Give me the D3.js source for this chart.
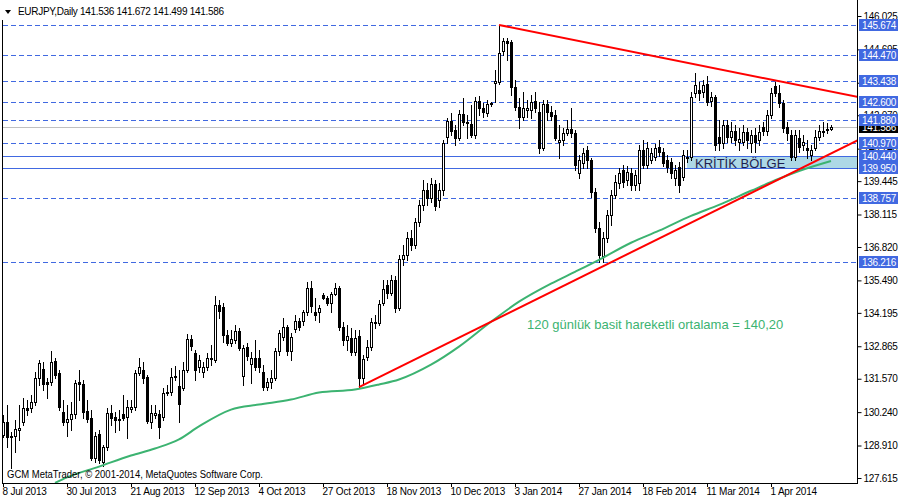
<!DOCTYPE html>
<html><head><meta charset="utf-8">
<script src="https://cdn.jsdelivr.net/npm/d3@7"></script>
<style>body{margin:0;background:#fff}svg{display:block}text{font-family:"Liberation Sans",Arial,sans-serif}</style>
</head><body><svg id="c" width="900" height="500"></svg>
<script>
const opens=[129.34,129.85,129.30,129.30,129.54,129.85,130.41,130.41,130.65,131.61,
131.96,131.45,131.45,132.28,131.80,130.25,129.85,129.97,130.17,131.45,
131.37,130.29,130.01,128.42,129.38,128.26,128.86,130.21,130.05,129.93,
130.17,130.05,130.37,130.45,131.80,131.92,131.65,129.85,130.13,130.17,
130.05,131.01,131.05,131.65,131.29,131.21,131.92,133.16,132.60,132.04,
131.84,132.04,132.36,132.32,134.51,134.43,133.32,133.00,133.12,133.48,
131.69,132.84,132.16,132.40,132.40,131.84,131.25,131.45,131.61,132.68,
133.24,133.64,132.68,133.56,133.88,133.88,134.23,135.19,134.23,134.23,
134.91,134.79,134.59,134.95,135.19,133.64,133.12,133.20,132.64,133.28,
131.61,132.44,132.84,133.80,133.80,134.59,135.31,134.99,135.51,134.39,
136.34,136.50,137.18,136.90,137.81,138.49,139.10,138.78,139.34,138.69,
139.10,141.21,141.84,141.49,141.17,142.12,141.76,141.72,141.29,142.64,
142.36,142.16,142.52,143.36,143.40,144.63,145.03,144.99,143.20,142.40,
142.00,142.28,142.28,142.64,142.20,140.77,142.52,142.20,142.08,141.01,
141.09,141.37,141.52,141.37,139.77,140.17,140.69,140.29,139.02,137.58,
136.46,137.18,138.09,138.89,139.38,139.90,139.50,139.78,139.30,139.38,
140.69,140.09,140.29,140.41,140.81,140.61,140.29,140.21,139.58,140.02,
139.62,140.37,140.41,142.96,143.08,143.00,143.32,142.64,142.80,141.21,
140.97,141.68,141.21,141.45,141.01,141.01,141.41,140.97,141.29,141.09,
141.60,141.45,142.08,143.24,142.96,142.56,141.60,141.29,140.41,141.17,
140.89,140.77,140.49,140.77,141.21,141.41,141.49,141.536];
const highs=[130.13,130.53,129.46,129.93,130.53,130.81,130.73,130.93,131.84,132.32,
132.24,131.61,132.68,132.40,131.92,130.73,130.53,130.65,131.53,131.92,
131.53,130.73,130.33,129.46,129.54,128.94,130.41,130.53,130.25,130.33,
130.93,130.73,130.73,131.92,132.40,132.24,131.72,130.53,130.53,130.33,
131.21,131.33,132.00,132.08,131.92,132.24,133.36,133.32,132.72,132.52,
132.24,132.60,132.92,134.87,134.71,134.59,133.52,133.52,133.72,133.60,
132.92,133.00,132.64,133.12,132.72,132.12,131.61,131.92,132.80,133.52,
133.99,133.72,133.40,134.11,133.99,134.31,135.43,135.47,134.79,134.51,
134.99,134.87,135.03,135.39,135.27,133.84,133.72,133.60,133.52,133.52,
132.52,133.12,133.99,134.11,134.71,135.51,135.51,135.70,135.66,136.50,
136.90,137.42,137.50,137.97,138.69,139.50,139.38,139.58,139.50,139.38,
141.09,141.96,142.16,141.68,142.28,142.76,142.08,142.48,142.80,142.84,
142.56,142.68,142.60,143.87,145.67,145.15,145.15,145.07,143.48,142.76,
143.00,142.68,142.88,143.00,142.60,142.68,142.68,142.44,142.28,141.68,
141.56,141.88,142.36,141.49,140.49,140.77,140.85,140.37,139.18,137.81,
137.42,138.29,139.10,139.70,139.98,140.10,140.06,139.98,139.90,140.89,
141.09,141.01,140.77,140.93,141.09,140.77,140.49,140.37,140.10,140.21,
140.69,140.69,143.00,143.75,143.40,143.48,143.64,143.00,142.88,141.88,
141.88,141.88,141.80,141.68,141.56,141.68,141.56,141.49,141.56,141.68,
141.80,142.28,143.16,143.38,143.28,142.68,141.80,141.49,141.49,141.49,
141.29,141.09,140.89,141.49,141.68,141.80,141.76,141.672];
const lows=[129.26,128.86,128.02,128.66,129.14,129.74,130.13,130.25,130.53,131.33,
131.13,130.81,131.33,131.61,130.33,129.74,129.30,129.54,130.01,130.73,
130.01,129.85,128.34,128.26,128.22,128.10,128.74,129.74,129.46,129.54,
129.93,129.22,130.25,130.33,131.72,131.41,129.81,129.62,130.01,129.22,
129.93,130.93,130.93,131.53,129.85,131.13,131.84,132.72,131.53,131.84,
131.65,131.92,132.12,132.24,133.99,133.04,132.92,132.88,133.00,132.72,
131.33,132.32,131.41,131.92,131.84,131.13,131.13,131.21,131.53,132.52,
133.12,132.52,132.32,133.44,133.52,133.72,134.11,134.23,133.91,133.83,
134.75,134.51,134.23,134.91,133.52,132.92,132.72,132.52,132.52,131.25,
131.41,132.32,132.72,133.60,133.72,134.51,134.79,134.91,134.23,134.31,
136.10,136.30,136.70,136.78,137.66,138.29,138.49,138.61,138.29,138.41,
138.90,140.97,141.29,140.89,141.09,141.68,141.17,141.21,141.17,142.08,
142.00,142.04,142.44,142.60,143.32,144.47,144.27,142.88,142.28,141.56,
141.88,142.00,141.96,142.20,140.57,140.69,141.88,141.88,141.09,140.37,
140.89,141.29,141.21,139.89,139.57,139.97,139.97,138.82,137.42,136.22,
136.22,137.02,137.69,138.77,139.18,139.22,139.30,139.10,139.10,139.10,
139.98,139.98,140.17,140.29,140.45,140.06,139.82,139.58,139.30,139.02,
139.50,140.21,140.29,142.80,142.68,142.80,142.48,142.44,140.69,140.69,
140.77,141.01,141.01,140.89,140.69,140.89,140.77,140.61,140.61,140.89,
141.29,141.29,141.96,142.84,142.40,141.41,141.09,140.29,140.29,140.61,
140.69,140.37,140.29,140.69,141.09,141.25,141.37,141.499];
const closes=[129.85,129.26,129.26,129.58,129.62,130.41,130.33,130.65,131.61,132.20,
131.37,131.37,132.24,131.72,130.45,129.85,129.97,130.17,131.41,131.37,
130.25,129.97,128.42,129.30,128.34,128.86,130.21,130.01,129.93,129.97,
130.01,130.45,130.45,131.80,132.04,131.61,129.89,130.21,130.21,129.66,
131.01,131.05,131.65,131.69,130.57,131.92,133.16,132.88,131.92,132.32,
132.04,132.40,132.40,134.51,134.27,133.32,133.00,133.16,133.48,132.80,
132.80,132.48,132.40,132.04,132.04,131.25,131.45,131.61,132.68,133.40,
133.64,132.68,133.24,133.88,133.64,134.23,135.19,134.47,134.11,134.39,
134.79,134.59,134.95,135.19,133.64,133.12,133.28,132.64,133.20,131.61,
132.36,132.84,133.84,133.84,134.55,135.15,134.99,135.51,134.39,136.34,
136.50,137.18,136.90,137.81,138.49,139.10,138.78,139.34,138.45,139.10,
140.97,141.84,141.44,141.17,142.12,141.80,141.80,141.29,142.64,142.36,
142.20,142.52,142.56,143.44,144.55,145.03,144.95,143.20,142.40,142.00,
142.36,142.36,142.60,142.36,140.77,142.52,142.20,142.04,141.17,141.09,
141.37,141.52,141.37,140.09,140.29,140.57,140.29,139.02,137.58,136.50,
137.18,138.09,138.89,139.42,139.78,139.42,139.82,139.30,139.70,140.69,
140.09,140.77,140.57,140.77,140.61,140.17,140.01,139.78,139.90,139.30,
140.49,140.41,142.80,143.28,142.96,143.28,142.60,142.80,140.89,140.97,
141.68,141.21,141.45,141.09,141.13,141.41,141.09,141.29,141.01,141.41,
141.45,142.08,142.96,142.96,142.56,141.57,141.37,140.41,141.29,140.81,
141.01,140.69,140.69,141.21,141.45,141.45,141.53,141.586];

const maBars=[13,16,24,32,38,44,49,57,64,72,79,88,94,99,107,114,122,129,137,143,149,157,164,172,179,187,194,199,207];
const maValues=[127.42,127.64,128.07,128.51,128.79,129.15,129.67,130.34,130.54,130.74,131.02,131.14,131.34,131.54,132.13,132.85,133.84,134.64,135.36,135.83,136.31,136.99,137.47,138.06,138.50,139.06,139.54,139.85,140.25];

const risingTrend=[[89,131.24],[207,140.55]];
const fallingTrend=[[124,145.67],[193,143.46]];

const dashedLevels=[145.674,144.470,143.438,142.600,141.880,140.970,138.757,136.216];
const solidLevels=[140.440,139.950];
const lastPrice=141.586;
const zoneStartBar=171;

const yTicks=[146.025,144.695,143.365,142.070,140.740,139.445,138.115,136.820,135.490,134.195,132.865,131.570,130.240,128.910,127.615];
const dateBars=[0,16,32,48,64,80,96,112,128,144,160,176,192];
const dateLabels=["8 Jul 2013","30 Jul 2013","21 Aug 2013","12 Sep 2013","4 Oct 2013","27 Oct 2013","18 Nov 2013","10 Dec 2013","3 Jan 2014","27 Jan 2014","18 Feb 2014","11 Mar 2014","1 Apr 2014"];

const titleText="EURJPY,Daily  141.536 141.672 141.499 141.586";
const copyText="GCM MetaTrader, \u00A9 2001-2014, MetaQuotes Software Corp.";
const maNote="120 günlük basit hareketli ortalama = 140,20";
const zoneNote="KRİTİK BÖLGE";

const svg=d3.select("#c");
const RIGHT=857, BOTTOM=483;
const x=d3.scaleLinear().domain([0,200]).range([3,803]);
const y=d3.scaleLinear().domain([127.615,146.025]).range([478,16]);

svg.append("defs").append("clipPath").attr("id","clip")
  .append("rect").attr("x",3).attr("y",0).attr("width",RIGHT-3).attr("height",BOTTOM);
const plot=svg.append("g").attr("clip-path","url(#clip)");

// zone
const z1=Math.round(y(solidLevels[0])), z2=Math.round(y(solidLevels[1]));
plot.append("rect").attr("x",Math.round(x(zoneStartBar))).attr("y",z1).attr("width",RIGHT-Math.round(x(zoneStartBar))).attr("height",z2-z1).attr("fill","#ADD8E6");

// level lines
plot.append("line").attr("x1",3).attr("x2",RIGHT).attr("y1",Math.round(y(lastPrice))+0.5).attr("y2",Math.round(y(lastPrice))+0.5).attr("stroke","#C0C0C0");
dashedLevels.forEach(v=>{const yy=Math.round(y(v))+0.5;
  plot.append("line").attr("x1",3).attr("x2",RIGHT).attr("y1",yy).attr("y2",yy).attr("stroke","#4169E1").attr("stroke-dasharray","5,3");});
solidLevels.forEach(v=>{const yy=Math.round(y(v))+0.5;
  plot.append("line").attr("x1",3).attr("x2",RIGHT).attr("y1",yy).attr("y2",yy).attr("stroke","#4169E1");});

// candles
const cg=plot.append("g");
closes.forEach((c,i)=>{
  const o=opens[i],h=highs[i],l=lows[i];
  const cx=Math.round(x(i));
  cg.append("line").attr("x1",cx+0.5).attr("x2",cx+0.5).attr("y1",Math.round(y(h))).attr("y2",Math.round(y(l))+1).attr("stroke","#000");
  const yt=Math.round(y(Math.max(o,c))), yb=Math.round(y(Math.min(o,c)));
  if(yb-yt<1){
    cg.append("line").attr("x1",cx-1).attr("x2",cx+2).attr("y1",yt+0.5).attr("y2",yt+0.5).attr("stroke","#000");
  } else {
    cg.append("rect").attr("x",cx-0.5).attr("y",yt+0.5).attr("width",2).attr("height",yb-yt)
      .attr("fill",c>=o?"#fff":"#000").attr("stroke","#000");
  }
});

// moving average
plot.append("path").datum(maBars.map((b,i)=>[b,maValues[i]]))
  .attr("d",d3.line().x(d=>x(d[0])).y(d=>y(d[1])).curve(d3.curveMonotoneX))
  .attr("fill","none").attr("stroke","#3CB371").attr("stroke-width",2);

// trend rays
function ray(a){const [b1,p1]=a[0],[b2,p2]=a[1];const bEnd=x.invert(RIGHT+2);
  const pEnd=p1+(p2-p1)/(b2-b1)*(bEnd-b1);return [[b1,p1],[bEnd,pEnd]];}
[risingTrend,fallingTrend].forEach(t=>{
  plot.append("path").datum(ray(t)).attr("d",d3.line().x(d=>x(d[0])).y(d=>y(d[1])))
   .attr("fill","none").attr("stroke","#FF0000").attr("stroke-width",2);
});

// frame
svg.append("line").attr("x1",2.5).attr("x2",2.5).attr("y1",20).attr("y2",BOTTOM+0.5).attr("stroke","#000");
svg.append("line").attr("x1",2).attr("x2",RIGHT+1).attr("y1",BOTTOM+0.5).attr("y2",BOTTOM+0.5).attr("stroke","#000");
svg.append("line").attr("x1",RIGHT+0.5).attr("x2",RIGHT+0.5).attr("y1",0).attr("y2",BOTTOM+1).attr("stroke","#000");

// right axis
const ya=svg.append("g").attr("transform",`translate(${RIGHT+0.5},0)`)
  .call(d3.axisRight(y).tickValues(yTicks).tickSize(4).tickPadding(2).tickFormat(d3.format(".3f")));
ya.select(".domain").remove();
ya.selectAll("text").attr("font-size",10).attr("font-family","Liberation Sans, Arial, sans-serif").attr("letter-spacing","-0.3").attr("fill","#000");
ya.selectAll("line").attr("stroke","#000");

// bottom axis
const xa=svg.append("g").attr("transform",`translate(0,${BOTTOM})`)
  .call(d3.axisBottom(x).tickValues(dateBars).tickSize(4).tickFormat((d,i)=>dateLabels[i]));
xa.select(".domain").remove();
xa.selectAll("text").attr("text-anchor","start").attr("x",-1).attr("y",4.5).attr("font-size",10)
  .attr("font-family","Liberation Sans, Arial, sans-serif").attr("letter-spacing","-0.2").attr("fill","#000");
xa.selectAll("line").attr("stroke","#000");

// price labels
function priceLabel(v,bg){const yy=Math.round(y(v));
  svg.append("rect").attr("x",859).attr("y",yy-6).attr("width",39).attr("height",12).attr("fill",bg);
  svg.append("text").attr("x",862).attr("y",yy+4).attr("font-size",10).attr("letter-spacing","-0.3").attr("fill","#fff").text(v.toFixed(3));}
priceLabel(lastPrice,"#000");
[...dashedLevels,...solidLevels].forEach(v=>priceLabel(v,"#4169E1"));

// title
svg.append("path").attr("d","M5,10 L11,10 L8,14 Z").attr("fill","#000");
svg.append("text").attr("x",18).attr("y",15).attr("font-size",10).attr("letter-spacing","-0.3").attr("fill","#000").text(titleText);

// copyright
svg.append("text").attr("x",7).attr("y",478).attr("font-size",10).attr("fill","#000")
  .attr("textLength",256).attr("lengthAdjust","spacingAndGlyphs").text(copyText);

// notes
svg.append("text").attr("x",527).attr("y",329).attr("font-size",13).attr("fill","#3CB371").text(maNote);
svg.append("text").attr("x",695).attr("y",168).attr("font-size",13).attr("fill","#1E1E50").text(zoneNote);
</script></body></html>
